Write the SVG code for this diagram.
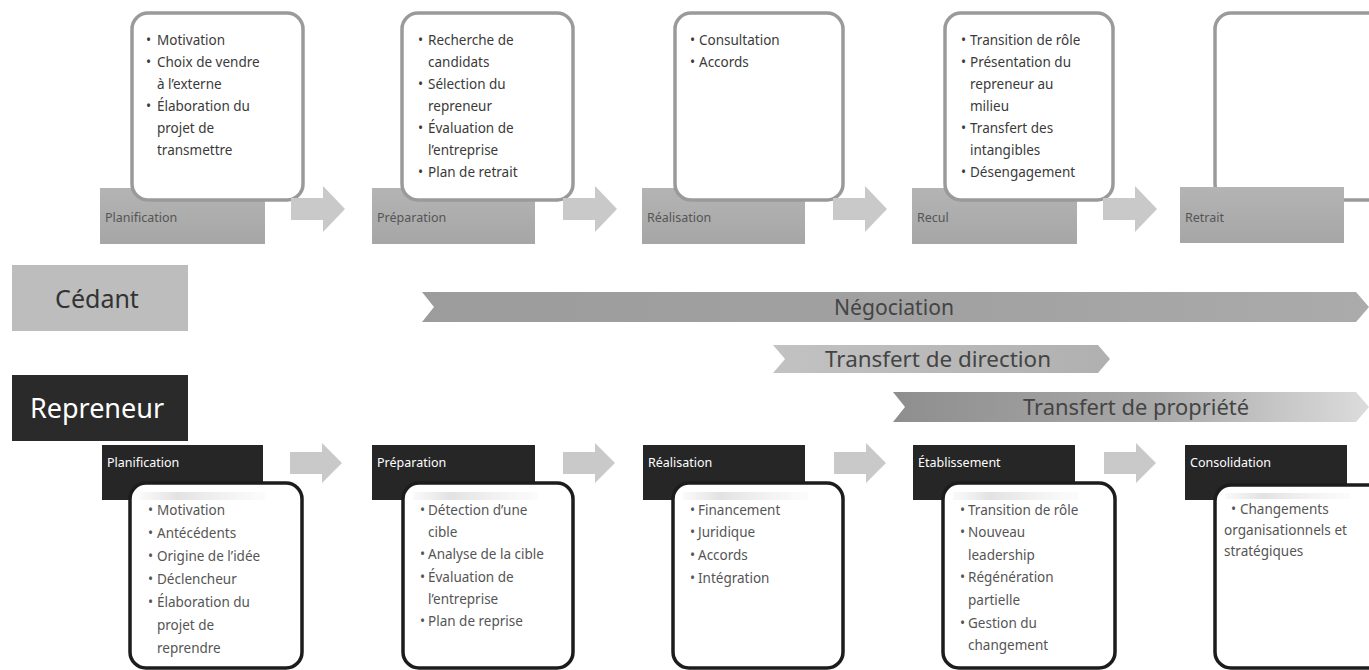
<svg xmlns="http://www.w3.org/2000/svg" width="1369" height="670" viewBox="0 0 1369 670">
  <defs>
    <linearGradient id="gTopLabel" x1="0" y1="0" x2="0" y2="1">
      <stop offset="0" stop-color="#b4b4b4"/>
      <stop offset="1" stop-color="#a6a6a6"/>
    </linearGradient>
    <linearGradient id="gNego" x1="0" y1="0" x2="1" y2="0">
      <stop offset="0" stop-color="#9c9c9c"/>
      <stop offset="0.6" stop-color="#a2a2a2"/>
      <stop offset="1" stop-color="#ababab"/>
    </linearGradient>
    <linearGradient id="gDir" x1="0" y1="0" x2="1" y2="0">
      <stop offset="0" stop-color="#c2c2c2"/>
      <stop offset="1" stop-color="#b0b0b0"/>
    </linearGradient>
    <linearGradient id="gProp" x1="0" y1="0" x2="1" y2="0">
      <stop offset="0" stop-color="#8e8e8e"/>
      <stop offset="0.55" stop-color="#a8a8a8"/>
      <stop offset="1" stop-color="#dcdcdc"/>
    </linearGradient>
    <linearGradient id="gBand" x1="0" y1="0" x2="1" y2="0">
      <stop offset="0" stop-color="#e6e6e6" stop-opacity="0.2"/>
      <stop offset="0.3" stop-color="#e2e2e2"/>
      <stop offset="1" stop-color="#eeeeee" stop-opacity="0.2"/>
    </linearGradient>
    <path id="arrowTop" d="M0,12 H32 V0 L54,23 L32,46 V34 H0 Z"/>
    <path id="arrowBot" d="M0,9 H32 V0 L52,20 L32,40 V31 H0 Z"/>
  </defs>
  <style>
    .tlabel { fill: url(#gTopLabel); }
    .blabel { fill: #262626; }
    .tbox { fill: #ffffff; stroke: #9a9a9a; stroke-width: 3.5; }
    .bbox { fill: #ffffff; stroke: #1c1c1c; stroke-width: 3.5; }
    .arr { fill: #c9c9c9; }
    .band { fill: url(#gBand); }
    text { font-family: "Noto Sans", "Open Sans", "Liberation Sans", sans-serif; }
    .tl { font-size: 12.5px; fill: #555555; }
    .bl { font-size: 12.5px; fill: #ffffff; }
    .tt { font-size: 13.5px; fill: #3a3a3a; }
    .bt { font-size: 13.5px; fill: #555555; }
    .bar { font-size: 22px; fill: #444444; }
  </style>

  <rect width="1369" height="670" fill="#ffffff"/>

  <!-- ===== Cédant phases (top row) ===== -->
  <g id="c-planification">
    <rect class="tlabel" x="100" y="188" width="165" height="56"/>
    <rect class="tbox" x="132" y="13" width="171" height="187" rx="16"/>
    <text class="tl" x="105" y="222">Planification</text>
    <text class="tt" x="146" y="45">•</text><text class="tt" x="157" y="45">Motivation</text>
    <text class="tt" x="146" y="67">•</text><text class="tt" x="157" y="67">Choix de vendre</text>
    <text class="tt" x="157" y="89">à l’externe</text>
    <text class="tt" x="146" y="111">•</text><text class="tt" x="157" y="111">Élaboration du</text>
    <text class="tt" x="157" y="133">projet de</text>
    <text class="tt" x="157" y="155">transmettre</text>
  </g>

  <g id="c-preparation">
    <rect class="tlabel" x="372" y="188" width="163" height="56"/>
    <rect class="tbox" x="402" y="13" width="171" height="187" rx="16"/>
    <text class="tl" x="377" y="222">Préparation</text>
    <text class="tt" x="418" y="45">•</text><text class="tt" x="428" y="45">Recherche de</text>
    <text class="tt" x="428" y="67">candidats</text>
    <text class="tt" x="418" y="89">•</text><text class="tt" x="428" y="89">Sélection du</text>
    <text class="tt" x="428" y="111">repreneur</text>
    <text class="tt" x="418" y="133">•</text><text class="tt" x="428" y="133">Évaluation de</text>
    <text class="tt" x="428" y="155">l’entreprise</text>
    <text class="tt" x="418" y="177">•</text><text class="tt" x="428" y="177">Plan de retrait</text>
  </g>

  <g id="c-realisation">
    <rect class="tlabel" x="642" y="188" width="163" height="56"/>
    <rect class="tbox" x="675" y="13" width="168" height="187" rx="16"/>
    <text class="tl" x="647" y="222">Réalisation</text>
    <text class="tt" x="690" y="45">•</text><text class="tt" x="699" y="45">Consultation</text>
    <text class="tt" x="690" y="67">•</text><text class="tt" x="699" y="67">Accords</text>
  </g>

  <g id="c-recul">
    <rect class="tlabel" x="912" y="188" width="165" height="56"/>
    <rect class="tbox" x="945" y="13" width="168" height="187" rx="16"/>
    <text class="tl" x="917" y="222">Recul</text>
    <text class="tt" x="961" y="45">•</text><text class="tt" x="970" y="45">Transition de rôle</text>
    <text class="tt" x="961" y="67">•</text><text class="tt" x="970" y="67">Présentation du</text>
    <text class="tt" x="970" y="89">repreneur au</text>
    <text class="tt" x="970" y="111">milieu</text>
    <text class="tt" x="961" y="133">•</text><text class="tt" x="970" y="133">Transfert des</text>
    <text class="tt" x="970" y="155">intangibles</text>
    <text class="tt" x="961" y="177">•</text><text class="tt" x="970" y="177">Désengagement</text>
  </g>

  <g id="c-retrait">
    <rect class="tbox" x="1215" y="13" width="175" height="187" rx="16"/>
    <rect class="tlabel" x="1180" y="187" width="164" height="56"/>
    <text class="tl" x="1185" y="222">Retrait</text>
  </g>

  <!-- ===== Actors ===== -->
  <g id="cedant">
    <rect x="12" y="265" width="176" height="66" fill="#bdbdbd"/>
    <text x="97" y="308" text-anchor="middle" font-size="25" fill="#333333">Cédant</text>
  </g>
  <g id="repreneur">
    <rect x="12" y="375" width="176" height="66" fill="#2a2a2a"/>
    <text x="97" y="418" text-anchor="middle" font-size="27" fill="#ffffff">Repreneur</text>
  </g>

  <!-- ===== Transversal processes ===== -->
  <g id="negociation">
    <polygon points="422,292 1356,292 1369,307 1356,322 422,322 434,307" fill="url(#gNego)"/>
    <text class="bar" x="894" y="315" text-anchor="middle" textLength="120" lengthAdjust="spacingAndGlyphs">Négociation</text>
  </g>
  <g id="transfert-direction">
    <polygon points="773,345 1098,345 1110,359 1098,373 773,373 785,359" fill="url(#gDir)"/>
    <text class="bar" x="938" y="367" text-anchor="middle" textLength="226" lengthAdjust="spacingAndGlyphs">Transfert de direction</text>
  </g>
  <g id="transfert-propriete">
    <polygon points="893,392 1356,392 1369,407 1356,422 893,422 905,407" fill="url(#gProp)"/>
    <text class="bar" x="1136" y="415" text-anchor="middle" textLength="226" lengthAdjust="spacingAndGlyphs">Transfert de propriété</text>
  </g>

  <!-- ===== Repreneur phases (bottom row) ===== -->
  <g id="r-planification">
    <rect class="blabel" x="102" y="445" width="161" height="55"/>
    <text class="bl" x="107" y="467">Planification</text>
    <rect class="bbox" x="130" y="483" width="172" height="185" rx="16"/>
    <rect class="band" x="140" y="492" width="125" height="8"/>
    <text class="bt" x="148" y="515">•</text><text class="bt" x="157" y="515">Motivation</text>
    <text class="bt" x="148" y="538">•</text><text class="bt" x="157" y="538">Antécédents</text>
    <text class="bt" x="148" y="561">•</text><text class="bt" x="157" y="561">Origine de l’idée</text>
    <text class="bt" x="148" y="584">•</text><text class="bt" x="157" y="584">Déclencheur</text>
    <text class="bt" x="148" y="607">•</text><text class="bt" x="157" y="607">Élaboration du</text>
    <text class="bt" x="157" y="630">projet de</text>
    <text class="bt" x="157" y="653">reprendre</text>
  </g>

  <g id="r-preparation">
    <rect class="blabel" x="372" y="445" width="163" height="55"/>
    <text class="bl" x="377" y="467">Préparation</text>
    <rect class="bbox" x="403" y="483" width="170" height="185" rx="16"/>
    <rect class="band" x="413" y="492" width="125" height="8"/>
    <text class="bt" x="420" y="515">•</text><text class="bt" x="428" y="515">Détection d’une</text>
    <text class="bt" x="428" y="537">cible</text>
    <text class="bt" x="420" y="559">•</text><text class="bt" x="428" y="559">Analyse de la cible</text>
    <text class="bt" x="420" y="582">•</text><text class="bt" x="428" y="582">Évaluation de</text>
    <text class="bt" x="428" y="604">l’entreprise</text>
    <text class="bt" x="420" y="626">•</text><text class="bt" x="428" y="626">Plan de reprise</text>
  </g>

  <g id="r-realisation">
    <rect class="blabel" x="643" y="445" width="162" height="55"/>
    <text class="bl" x="648" y="467">Réalisation</text>
    <rect class="bbox" x="673" y="483" width="170" height="185" rx="16"/>
    <rect class="band" x="683" y="492" width="125" height="8"/>
    <text class="bt" x="690" y="515">•</text><text class="bt" x="698" y="515">Financement</text>
    <text class="bt" x="690" y="537">•</text><text class="bt" x="698" y="537">Juridique</text>
    <text class="bt" x="690" y="560">•</text><text class="bt" x="698" y="560">Accords</text>
    <text class="bt" x="690" y="583">•</text><text class="bt" x="698" y="583">Intégration</text>
  </g>

  <g id="r-etablissement">
    <rect class="blabel" x="913" y="445" width="162" height="55"/>
    <text class="bl" x="918" y="467">Établissement</text>
    <rect class="bbox" x="943" y="483" width="172" height="185" rx="16"/>
    <rect class="band" x="953" y="492" width="125" height="8"/>
    <text class="bt" x="960" y="515">•</text><text class="bt" x="968" y="515">Transition de rôle</text>
    <text class="bt" x="960" y="537">•</text><text class="bt" x="968" y="537">Nouveau</text>
    <text class="bt" x="968" y="560">leadership</text>
    <text class="bt" x="960" y="582">•</text><text class="bt" x="968" y="582">Régénération</text>
    <text class="bt" x="968" y="605">partielle</text>
    <text class="bt" x="960" y="628">•</text><text class="bt" x="968" y="628">Gestion du</text>
    <text class="bt" x="968" y="650">changement</text>
  </g>

  <g id="r-consolidation">
    <rect class="blabel" x="1185" y="445" width="162" height="55"/>
    <text class="bl" x="1190" y="467">Consolidation</text>
    <rect class="bbox" x="1215" y="485" width="175" height="183" rx="16"/>
    <rect class="band" x="1225" y="493" width="125" height="6"/>
    <text class="bt" x="1231" y="514">•</text><text class="bt" x="1240" y="514">Changements</text>
    <text class="bt" x="1224" y="535" textLength="123" lengthAdjust="spacingAndGlyphs">organisationnels et</text>
    <text class="bt" x="1224" y="556">stratégiques</text>
  </g>

  <!-- ===== Flow arrows between phases ===== -->
  <g id="connectors">
    <use href="#arrowTop" class="arr" x="291" y="186"/>
    <use href="#arrowTop" class="arr" x="563" y="186"/>
    <use href="#arrowTop" class="arr" x="833" y="186"/>
    <use href="#arrowTop" class="arr" x="1103" y="186"/>
    <use href="#arrowBot" class="arr" x="290" y="443"/>
    <use href="#arrowBot" class="arr" x="563" y="443"/>
    <use href="#arrowBot" class="arr" x="834" y="443"/>
    <use href="#arrowBot" class="arr" x="1104" y="443"/>
  </g>
</svg>
